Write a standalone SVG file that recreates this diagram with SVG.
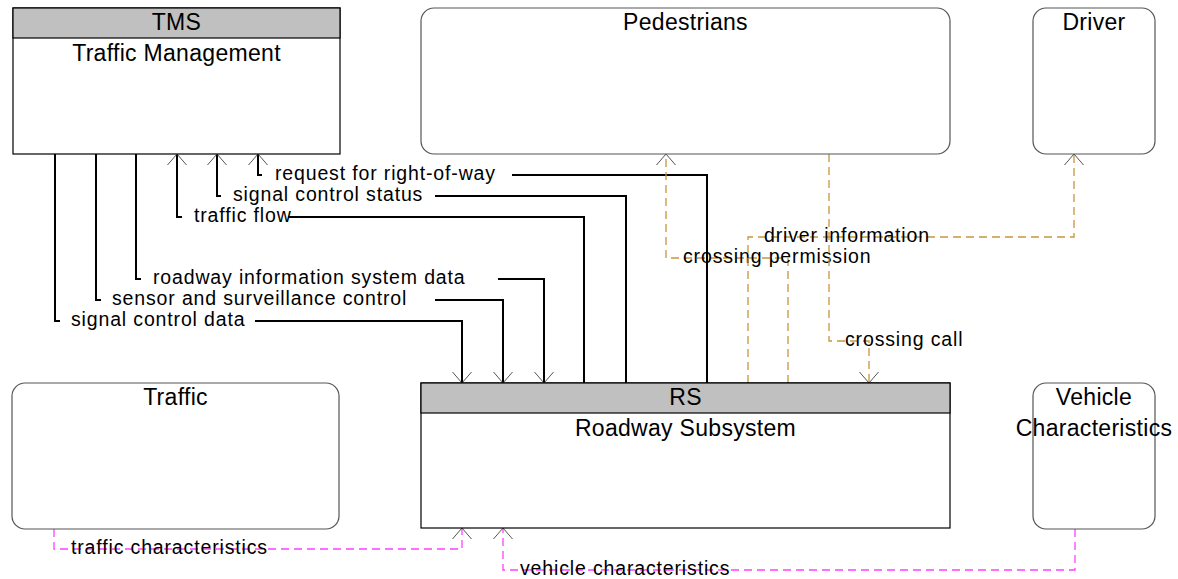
<svg xmlns="http://www.w3.org/2000/svg" width="1178" height="579" viewBox="0 0 1178 579">
<style>
.bg{fill:#ffffff}
.sq{fill:#ffffff;stroke:#000000;stroke-width:1.2}
.hd{fill:#c0c0c0;stroke:#000000;stroke-width:1.2}
.rd{fill:#ffffff;stroke:#555555;stroke-width:1.2}
.nt{font-family:"Liberation Sans",Arial,sans-serif;font-size:23px;letter-spacing:0.3px;fill:#000000;text-anchor:middle}
.lb{font-family:"Liberation Sans",Arial,sans-serif;font-size:19.5px;letter-spacing:0.85px;fill:#000000}
.k{fill:none;stroke:#000000;stroke-width:2}
.o{fill:none;stroke:#c8963c;stroke-width:1.3;stroke-dasharray:8 5}
.m{fill:none;stroke:#ff40ff;stroke-width:1.3;stroke-dasharray:8 5}
</style>
<defs>
<marker id="arr" markerUnits="userSpaceOnUse" markerWidth="26" markerHeight="26" viewBox="-13 -13 26 26" refX="0" refY="0" orient="auto">
<path d="M-11,-9.5 L0,0 L-11,9.5" fill="none" stroke="#555555" stroke-width="1"/>
</marker>
</defs>
<rect class="bg" x="0" y="0" width="1178" height="579"/>
<g id="connectors">
<g id="c-signal-control-data">
<path class="k" d="M55,154 V321 H60"/>
<path class="k" d="M255,321 H462 V383" marker-end="url(#arr)"/>
<text class="lb" x="71" y="326">signal control data</text>
</g>
<g id="c-sensor">
<path class="k" d="M96,154 V300 H101"/>
<path class="k" d="M435,300 H503 V383" marker-end="url(#arr)"/>
<text class="lb" x="112" y="305">sensor and surveillance control</text>
</g>
<g id="c-roadway-info">
<path class="k" d="M136,154 V279 H141"/>
<path class="k" d="M498,279 H544 V383" marker-end="url(#arr)"/>
<text class="lb" x="153" y="284">roadway information system data</text>
</g>
<g id="c-traffic-flow">
<path class="k" d="M584,383 V217 H288"/>
<path class="k" d="M182,217 H177 V154" marker-end="url(#arr)"/>
<text class="lb" x="194" y="222">traffic flow</text>
</g>
<g id="c-signal-control-status">
<path class="k" d="M626,383 V196 H435"/>
<path class="k" d="M221,196 H217 V154" marker-end="url(#arr)"/>
<text class="lb" x="233" y="201">signal control status</text>
</g>
<g id="c-request">
<path class="k" d="M707,383 V175 H512"/>
<path class="k" d="M262,175 H258 V154" marker-end="url(#arr)"/>
<text class="lb" x="275" y="180">request for right-of-way</text>
</g>
<g id="c-crossing-permission">
<path class="o" d="M788,383 V258 H666 V154" marker-end="url(#arr)"/>
<text class="lb" x="683" y="263">crossing permission</text>
</g>
<g id="c-driver-information">
<path class="o" d="M748,383 V237 H1074 V154" marker-end="url(#arr)"/>
<text class="lb" x="764" y="242">driver information</text>
</g>
<g id="c-crossing-call">
<path class="o" d="M829,154 V341 H869 V383" marker-end="url(#arr)"/>
<text class="lb" x="845" y="346">crossing call</text>
</g>
<g id="c-traffic-characteristics">
<path class="m" d="M54,529 V549 H462 V528" marker-end="url(#arr)"/>
<text class="lb" x="71" y="554">traffic characteristics</text>
</g>
<g id="c-vehicle-characteristics">
<path class="m" d="M1075,529 V570 H503 V528" marker-end="url(#arr)"/>
<text class="lb" x="520" y="575">vehicle characteristics</text>
</g>
</g>
<g id="node-tms">
<rect class="sq" x="13" y="8" width="327" height="146"/>
<rect class="hd" x="13" y="8" width="327" height="30"/>
<text class="nt" x="176.5" y="30">TMS</text>
<text class="nt" x="176.5" y="61">Traffic Management</text>
</g>
<g id="node-pedestrians">
<rect class="rd" x="421" y="8" width="529" height="146" rx="13" ry="13"/>
<text class="nt" x="685.5" y="30">Pedestrians</text>
</g>
<g id="node-driver">
<rect class="rd" x="1033" y="8" width="122" height="146" rx="13" ry="13"/>
<text class="nt" x="1094" y="30">Driver</text>
</g>
<g id="node-traffic">
<rect class="rd" x="12" y="383" width="327" height="146" rx="13" ry="13"/>
<text class="nt" x="175.5" y="405">Traffic</text>
</g>
<g id="node-rs">
<rect class="sq" x="421" y="383" width="529" height="145"/>
<rect class="hd" x="421" y="383" width="529" height="30"/>
<text class="nt" x="685.5" y="405">RS</text>
<text class="nt" x="685.5" y="436">Roadway Subsystem</text>
</g>
<g id="node-vehicle">
<rect class="rd" x="1033" y="383" width="122" height="146" rx="13" ry="13"/>
<text class="nt" x="1094" y="405">Vehicle</text>
<text class="nt" x="1094" y="436">Characteristics</text>
</g>
</svg>
